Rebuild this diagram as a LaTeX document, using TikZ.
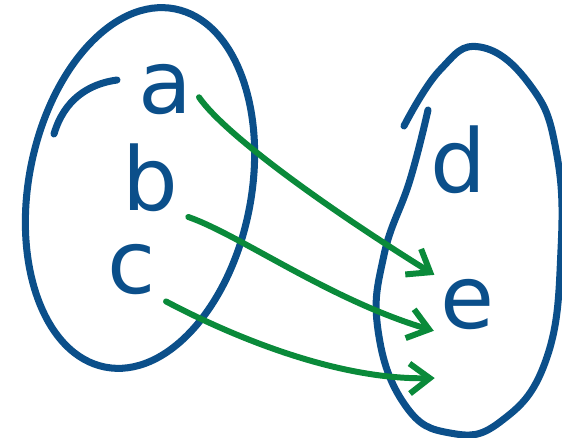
\documentclass[tikz,border=0pt]{standalone}
\usepackage{fontspec}
\setmainfont{DejaVu Sans}
\usepackage{tikz}
\usetikzlibrary{arrows.meta,positioning,shapes.geometric,calc}
\definecolor{SetBlue}{HTML}{0B4F8A}
\definecolor{MapGreen}{HTML}{0A8A3A}
\tikzset{
  setblob/.style={draw=SetBlue,ellipse,line width=4pt,inner sep=0pt},
  setstroke/.style={draw=SetBlue,line width=4pt,line cap=round,line join=round},
  elemlabel/.style={text=SetBlue,font=\fontsize{50}{50}\selectfont,inner sep=1pt},
  maparrow/.style={-{Straight Barb[length=4mm,width=6mm,line width=3.4pt]},line width=3.4pt,draw=MapGreen,line cap=round,shorten <=5pt,shorten >=3pt}
}
\begin{document}
\begin{tikzpicture}[x=0.02cm,y=-0.02cm]
\useasboundingbox (0,0) rectangle (562,438);
% the two sets
\node[setblob,minimum width=4.45cm,minimum height=7.3cm,rotate=-11] (left) at (140,188) {};
\draw[setstroke] (117,80) .. controls (88,84) and (64,100) .. (54,134);
\draw[setstroke] plot[smooth,tension=0.75] coordinates {(404,126) (440,70) (480,47) (530,85) (556,150) (561,250) (546,360) (500,422) (450,433) (405,405) (378,330) (384,255) (410,180) (428,110)};
% elements
\node[elemlabel] (a) at (165,90) {a};
\node[elemlabel] (b) at (150,178) {b};
\node[elemlabel] (c) at (132,270) {c};
\node[elemlabel] (d) at (458,160) {d};
\node[elemlabel] (e) at (468,305) {e};
\coordinate (cend) at (440,378);
% mapping
\draw[maparrow] (a.east) .. controls (225,135) and (330,210) .. (e.north west);
\draw[maparrow] (b.south east) .. controls (240,235) and (330,300) .. (e.south west);
\draw[maparrow] (c.south east) .. controls (220,330) and (330,380) .. (cend);
\end{tikzpicture}
\end{document}
